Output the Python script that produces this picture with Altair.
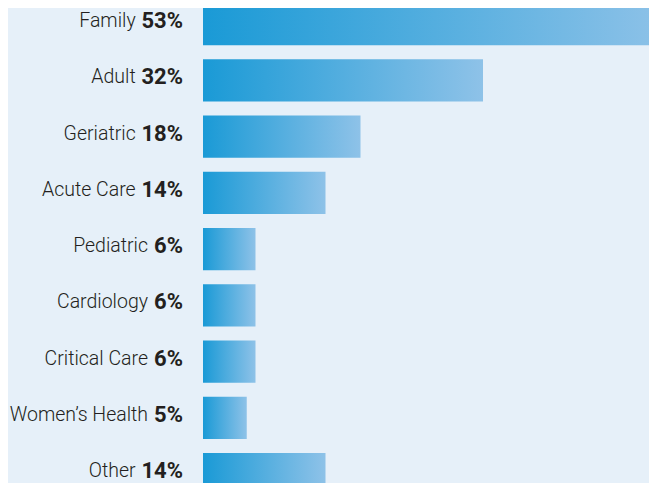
import altair as alt
import pandas as pd

categories = ["Family", "Adult", "Geriatric", "Acute Care", "Pediatric",
              "Cardiology", "Critical Care", "Women\u2019s Health", "Other"]
values = [53, 32, 18, 14, 6, 6, 6, 5, 14]
pct_labels = [f"{v}%" for v in values]

df = pd.DataFrame({"cat": categories, "value": values, "pct": pct_labels})

FONT = "Roboto, sans-serif"
TEXT_X = 175

y_enc = alt.Y("cat:N", sort=categories,
              scale=alt.Scale(range=[-5, 487.2], paddingInner=0.25, paddingOuter=0),
              axis=None)

grad = alt.LinearGradient(
    gradient="linear",
    stops=[alt.GradientStop(offset=0, color="#1a9ad6"),
           alt.GradientStop(offset=1, color="#8ec2e8")],
    x1=0, x2=1, y1=0, y2=0)

bars = alt.Chart(df).mark_bar(color=grad, clip=True).encode(
    x=alt.X("value:Q", scale=alt.Scale(domain=[0, 100], range=[195, 1070]), axis=None),
    y=y_enc,
)

pct_text = alt.Chart(df).mark_text(
    align="right", baseline="middle", font=FONT, fontWeight="bold",
    fontSize=22, color="#231f20", dy=-3
).encode(x=alt.value(TEXT_X), y=y_enc, text="pct:N")

name_text = alt.Chart(df).transform_calculate(
    nx=f"{TEXT_X} - (12.35 * (length(datum.pct) - 1) + 16.1) - 6.5"
).mark_text(
    align="right", baseline="middle", font=FONT, fontWeight=300,
    fontSize=19.5, color="#231f20", dy=-3
).encode(x=alt.X("nx:Q", scale=None, axis=None), y=y_enc, text="cat:N")

chart = alt.layer(bars, pct_text, name_text).properties(
    width=641, height=475, padding=0, autosize=alt.AutoSizeParams(type="none"),
    background="#e6f0f9"
).configure_view(strokeWidth=0)

chart.save("out.html", embed_options={"renderer": "svg", "actions": False})
